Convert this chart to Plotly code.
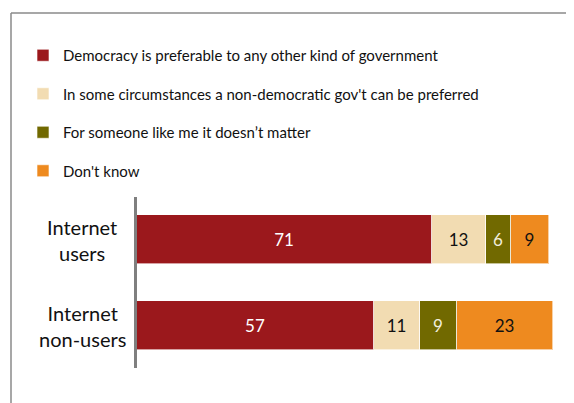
import plotly.graph_objects as go

categories = ["Internet users", "Internet non-users"]
cat_labels = ["Internet<br>users", "Internet<br>non-users"]
series_names = [
    "Democracy is preferable to any other kind of government",
    "In some circumstances a non-democratic gov't can be preferred",
    "For someone like me it doesn\u2019t matter",
    "Don't know",
]
democracy = [71, 57]
non_dem = [13, 11]
no_matter = [6, 9]
dont_know = [9, 23]

colors = ["#9B181C", "#F2DCB2", "#716900", "#EE8A1F"]
text_colors = ["#FFFFFF", "#111111", "#F2EEDC", "#111111"]

# page is rendered with an 8px body margin; figure fills the rest of the window
OFF = 8
W, H = 574 - OFF, 403 - OFF
L = 137 - OFF
R = W - (553 - OFF)
T = 197 - OFF
B = H - (368 - OFF)

fig = go.Figure()
for i, (name, vals) in enumerate(zip(series_names, [democracy, non_dem, no_matter, dont_know])):
    fig.add_trace(go.Bar(
        y=categories, x=vals, name=name, orientation="h",
        marker=dict(color=colors[i], line=dict(color="rgba(255,255,255,0.6)", width=1)),
        text=[str(v) for v in vals], textposition="inside", insidetextanchor="middle",
        textfont=dict(color=text_colors[i], size=17, family="Lato"),
        width=0.57, legendgroup=f"g{i}",
        hoverinfo="skip",
    ))

pw = W - L - R
ph = H - T - B

def px_to_xpaper(px):
    return (px - OFF - L) / pw

def py_to_ypaper(py):
    return (H - B - (py - OFF)) / ph

for cat, lab in zip(categories, cat_labels):
    fig.add_annotation(
        x=px_to_xpaper(82), xref="paper", y=cat, yref="y",
        text=lab, showarrow=False, align="center", xanchor="center", yanchor="middle",
        font=dict(size=20, family="Lato", color="#111111"),
    )

# frame: only the top and left edges are visible in the window
border = dict(color="#8a8a8a", width=1.5)
fig.add_shape(type="line", xref="paper", yref="paper",
              x0=px_to_xpaper(11), x1=px_to_xpaper(700),
              y0=py_to_ypaper(13), y1=py_to_ypaper(13), line=border, layer="below")
fig.add_shape(type="line", xref="paper", yref="paper",
              x0=px_to_xpaper(11), x1=px_to_xpaper(11),
              y0=py_to_ypaper(13), y1=py_to_ypaper(500), line=border, layer="below")

# y range: bar centers at page y 239.5 and 325.5, axis from 197 to 368
unit = 86.0
top_val = -(239.5 - 197) / unit
bot_val = top_val + (368 - 197) / unit

fig.update_layout(
    width=W, height=H,
    margin=dict(l=L, r=R, t=T, b=B),
    barmode="stack",
    paper_bgcolor="white", plot_bgcolor="white",
    font=dict(family="Lato", size=15, color="#111111"),
    showlegend=True,
    legend=dict(
        x=px_to_xpaper(23), y=py_to_ypaper(39), xanchor="left", yanchor="top",
        traceorder="grouped", tracegroupgap=16,
        font=dict(size=15, family="Lato", color="#111111"),
        itemwidth=30, bgcolor="rgba(0,0,0,0)",
    ),
    xaxis=dict(range=[0, 100], visible=False, fixedrange=True),
    yaxis=dict(
        range=[bot_val, top_val], showticklabels=False, ticks="",
        showline=True, linecolor="#7f7f7f", linewidth=2.5, showgrid=False, zeroline=False,
    ),
    bargap=0,
)

fig.write_html("out.html")
